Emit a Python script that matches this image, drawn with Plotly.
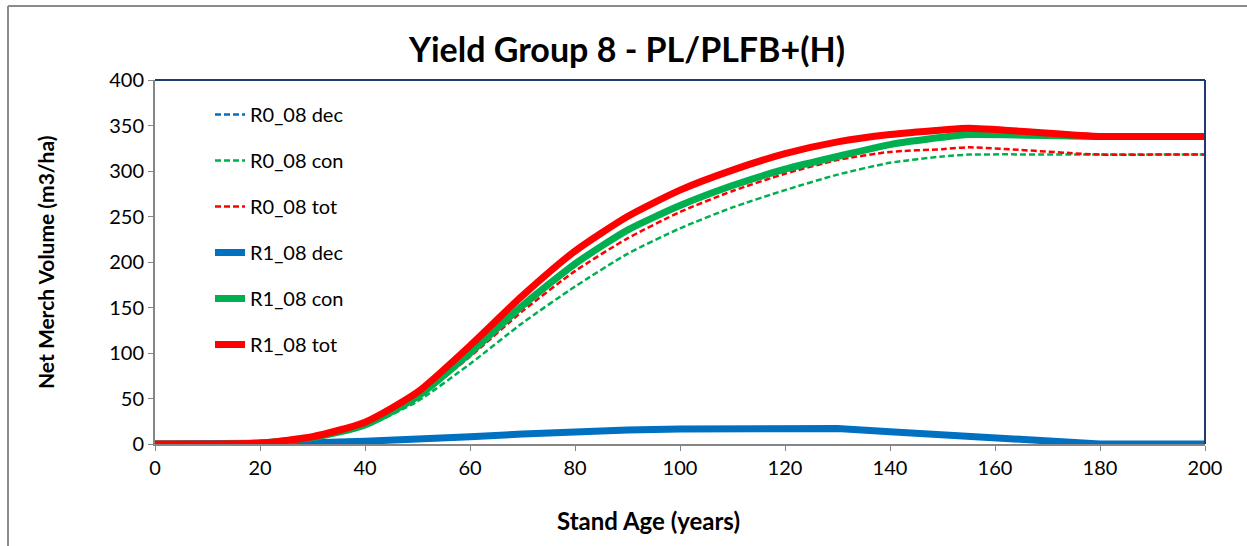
import plotly.graph_objects as go

ages = [0, 10, 20, 30, 40, 50, 60, 70, 80, 90, 100, 110, 120, 130, 140, 150, 155, 180, 190, 200]

r0_dec = [0, 0, 0.5, 1.5, 3, 5, 8, 11, 13.5, 15.5, 16.5, 17, 17, 17, 13.5, 10, 8.5, 0, 0, 0]
r0_con = [0, 0, 1, 6, 19, 47, 88, 133, 173, 209, 237, 260, 279, 296, 309, 316, 318, 318, 318, 318]
r0_tot = [0, 0, 1, 7, 21, 51, 96, 146, 190, 226, 255, 278, 297, 312, 321, 324, 326, 318, 318, 318]
r1_dec = [0, 0, 0.5, 1.5, 3, 5, 8, 11, 13.5, 15.5, 16.5, 17, 17, 17, 13.5, 10, 8.5, 0, 0, 0]
r1_con = [0, 0, 1, 7, 21, 52, 100, 152, 198, 235, 262, 284, 302, 316, 329, 337, 340, 338, 338, 338]
r1_tot = [0, 0, 1, 8, 24, 57, 108, 163, 212, 250, 279, 301, 319, 332, 340, 345, 347, 338, 338, 338]

x_ticks = [0, 20, 40, 60, 80, 100, 120, 140, 160, 180, 200]
y_ticks = [0, 50, 100, 150, 200, 250, 300, 350, 400]

BLUE = "#0070C0"
GREEN = "#00B050"
RED = "#FF0000"
FONT = "Lato"

series = [
    ("R0_08 dec", r0_dec, BLUE, 2.5, "6px,3px", "linear"),
    ("R0_08 con", r0_con, GREEN, 2.5, "6px,3px", "spline"),
    ("R0_08 tot", r0_tot, RED, 2.5, "6px,3px", "spline"),
    ("R1_08 dec", r1_dec, BLUE, 7, "solid", "linear"),
    ("R1_08 con", r1_con, GREEN, 7, "solid", "spline"),
    ("R1_08 tot", r1_tot, RED, 7, "solid", "spline"),
]

fig = go.Figure()
for name, vals, color, width, dash, shape in series:
    fig.add_trace(go.Scatter(
        x=ages, y=vals, name=name, mode="lines", legendgroup=name,
        line=dict(color=color, width=width, dash=dash, shape=shape,
                  smoothing=0.6 if shape == "spline" else None),
    ))

W, H = 1247, 546
L, T = 155, 80
R = W - 1205
B = H - 444
pw, ph = W - L - R, H - T - B

def px_x(p):
    return (p - L) / pw

def px_y(p):
    return (H - B - p) / ph

fig.update_layout(
    width=W, height=H,
    margin=dict(l=L, r=R, t=T, b=B),
    paper_bgcolor="white", plot_bgcolor="white",
    font=dict(family=FONT, size=20, color="black"),
    title=dict(text="<b>Yield Group 8 - PL/PLFB+(H)</b>", x=627 / W, xref="container",
               xanchor="center", y=1 - 50 / H, yref="container", yanchor="middle",
               font=dict(family=FONT, size=34, color="black")),
    showlegend=True,
    legend=dict(x=px_x(210), y=px_y(95), xanchor="left", yanchor="top",
                bgcolor="rgba(0,0,0,0)", traceorder="grouped", tracegroupgap=17,
                font=dict(family=FONT, size=20, color="black")),
    xaxis=dict(range=[0, 200], tickvals=x_ticks, ticks="outside", ticklen=5,
               tickcolor="#868686", showline=True, linecolor="#868686", linewidth=2,
               showgrid=False, zeroline=False, tickfont=dict(size=20)),
    yaxis=dict(range=[0, 400], tickvals=y_ticks, ticks="outside", ticklen=5,
               tickcolor="#868686", showline=True, linecolor="#868686", linewidth=2,
               showgrid=False, zeroline=False, tickfont=dict(size=20)),
    annotations=[
        dict(text="<b>Stand Age (years)</b>", xref="paper", yref="paper",
             x=px_x(648), y=px_y(520), xanchor="center", yanchor="middle",
             showarrow=False, font=dict(family=FONT, size=24, color="black")),
        dict(text="<b>Net Merch Volume (m3/ha)</b>", xref="paper", yref="paper",
             x=px_x(45), y=px_y(262), xanchor="center", yanchor="middle",
             textangle=-90, showarrow=False, font=dict(family=FONT, size=21, color="black")),
    ],
    shapes=[
        dict(type="line", xref="paper", yref="paper", x0=0, x1=1, y0=1, y1=1,
             line=dict(color="#1F3A6E", width=2)),
        dict(type="line", xref="paper", yref="paper", x0=1, x1=1, y0=0, y1=1,
             line=dict(color="#1F3A6E", width=2)),
        dict(type="line", xref="paper", yref="paper", x0=px_x(8), x1=px_x(1247),
             y0=px_y(6), y1=px_y(6), line=dict(color="#8C8C8C", width=2)),
        dict(type="line", xref="paper", yref="paper", x0=px_x(8), x1=px_x(8),
             y0=px_y(6), y1=px_y(546), line=dict(color="#8C8C8C", width=2)),
    ],
)

fig.write_html("out.html", config={"displayModeBar": False},
               post_script="document.body.style.margin='0';")
